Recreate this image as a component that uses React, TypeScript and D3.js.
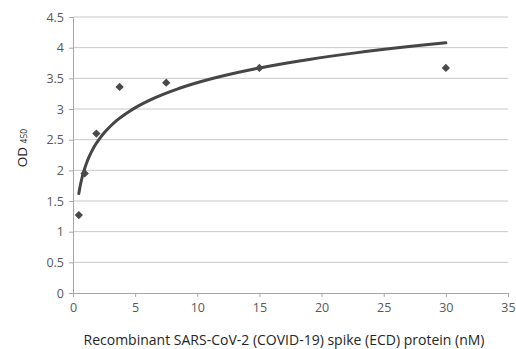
import React, { useEffect, useRef } from 'react';
import * as d3 from 'd3';

// concentration in nM (2-fold serial dilution) and measured OD450
const concentration = [0.47, 0.94, 1.88, 3.75, 7.5, 15, 30];
const od450 = [1.27, 1.95, 2.6, 3.36, 3.43, 3.67, 3.67];

const xTicks = [0, 5, 10, 15, 20, 25, 30, 35];
const yTicks = [0, 0.5, 1, 1.5, 2, 2.5, 3, 3.5, 4, 4.5];

const xTitle = 'Recombinant SARS-CoV-2 (COVID-19) spike (ECD) protein (nM)';

const W = 516;
const H = 349;

const App = () => {
    const svgRef = useRef<SVGSVGElement>(null);

    useEffect(() => {
        const svg = d3.select(svgRef.current);
        svg.selectAll('*').remove();

        const margin = { top: 17, right: 8, bottom: 56, left: 73 };
        const font = 'Open Sans, sans-serif';

        const x = d3.scaleLinear().domain([0, 35]).range([margin.left, W - margin.right]);
        const y = d3.scaleLinear().domain([0, 4.5]).range([H - margin.bottom, margin.top]);

        svg.append('rect').attr('width', W).attr('height', H).attr('fill', '#fff');

        // horizontal gridlines
        svg.append('g')
            .selectAll('line')
            .data(yTicks.slice(1))
            .enter()
            .append('line')
            .attr('x1', x(0))
            .attr('x2', x(35))
            .attr('y1', d => y(d))
            .attr('y2', d => y(d))
            .attr('stroke', '#c8c8c8')
            .attr('stroke-width', 1);

        // axes
        const xAxis = svg.append('g')
            .attr('transform', `translate(0,${y(0)})`)
            .call(d3.axisBottom(x).tickValues(xTicks).tickSize(4).tickPadding(6).tickFormat(d3.format('d')));
        const yAxis = svg.append('g')
            .attr('transform', `translate(${x(0)},0)`)
            .call(d3.axisLeft(y).tickValues(yTicks).tickSize(4).tickPadding(5).tickFormat(d => String(d)));

        [xAxis, yAxis].forEach(g => {
            g.select('.domain').attr('stroke', '#a6a6a6');
            g.selectAll('.tick line').attr('stroke', '#a6a6a6');
            g.selectAll('.tick text')
                .attr('fill', '#595959')
                .style('font-family', font)
                .style('font-size', '12.5px');
        });

        // logarithmic trendline, least squares of y on ln(x)
        const lx = concentration.map(Math.log);
        const mx = d3.mean(lx) as number;
        const my = d3.mean(od450) as number;
        const sxy = d3.sum(lx, (v, i) => (v - mx) * (od450[i] - my));
        const sxx = d3.sum(lx, v => (v - mx) * (v - mx));
        const a = sxy / sxx;
        const b = my - a * mx;

        const xs = d3.range(0, 121).map(i =>
            Math.exp(Math.log(concentration[0]) + (i / 120) * (Math.log(30) - Math.log(concentration[0]))));
        const line = d3.line<number>()
            .x(d => x(d))
            .y(d => y(a * Math.log(d) + b));

        svg.append('path')
            .attr('d', line(xs))
            .attr('fill', 'none')
            .attr('stroke', '#464646')
            .attr('stroke-width', 3)
            .attr('stroke-linecap', 'round');

        // diamond markers
        const diamond = d3.symbol().type(d3.symbolDiamond2).size(44);
        svg.append('g')
            .selectAll('path')
            .data(concentration)
            .enter()
            .append('path')
            .attr('d', diamond)
            .attr('transform', (d, i) => `translate(${x(d)},${y(od450[i])})`)
            .attr('fill', '#4a4a4a');

        // axis titles
        svg.append('text')
            .attr('x', 284)
            .attr('y', 345)
            .attr('text-anchor', 'middle')
            .attr('fill', '#262626')
            .style('font-family', font)
            .style('font-size', '14px')
            .text(xTitle);

        const yt = svg.append('text')
            .attr('transform', 'translate(27,148) rotate(-90)')
            .attr('text-anchor', 'middle')
            .attr('fill', '#262626')
            .style('font-family', font);
        yt.append('tspan').style('font-size', '13.5px').text('OD ');
        yt.append('tspan').style('font-size', '8.5px').text('450');
    }, []);

    return (
        <svg ref={svgRef} width={W} height={H} style={{ position: 'absolute', left: 0, top: 0 }} />
    );
};

export default App;
